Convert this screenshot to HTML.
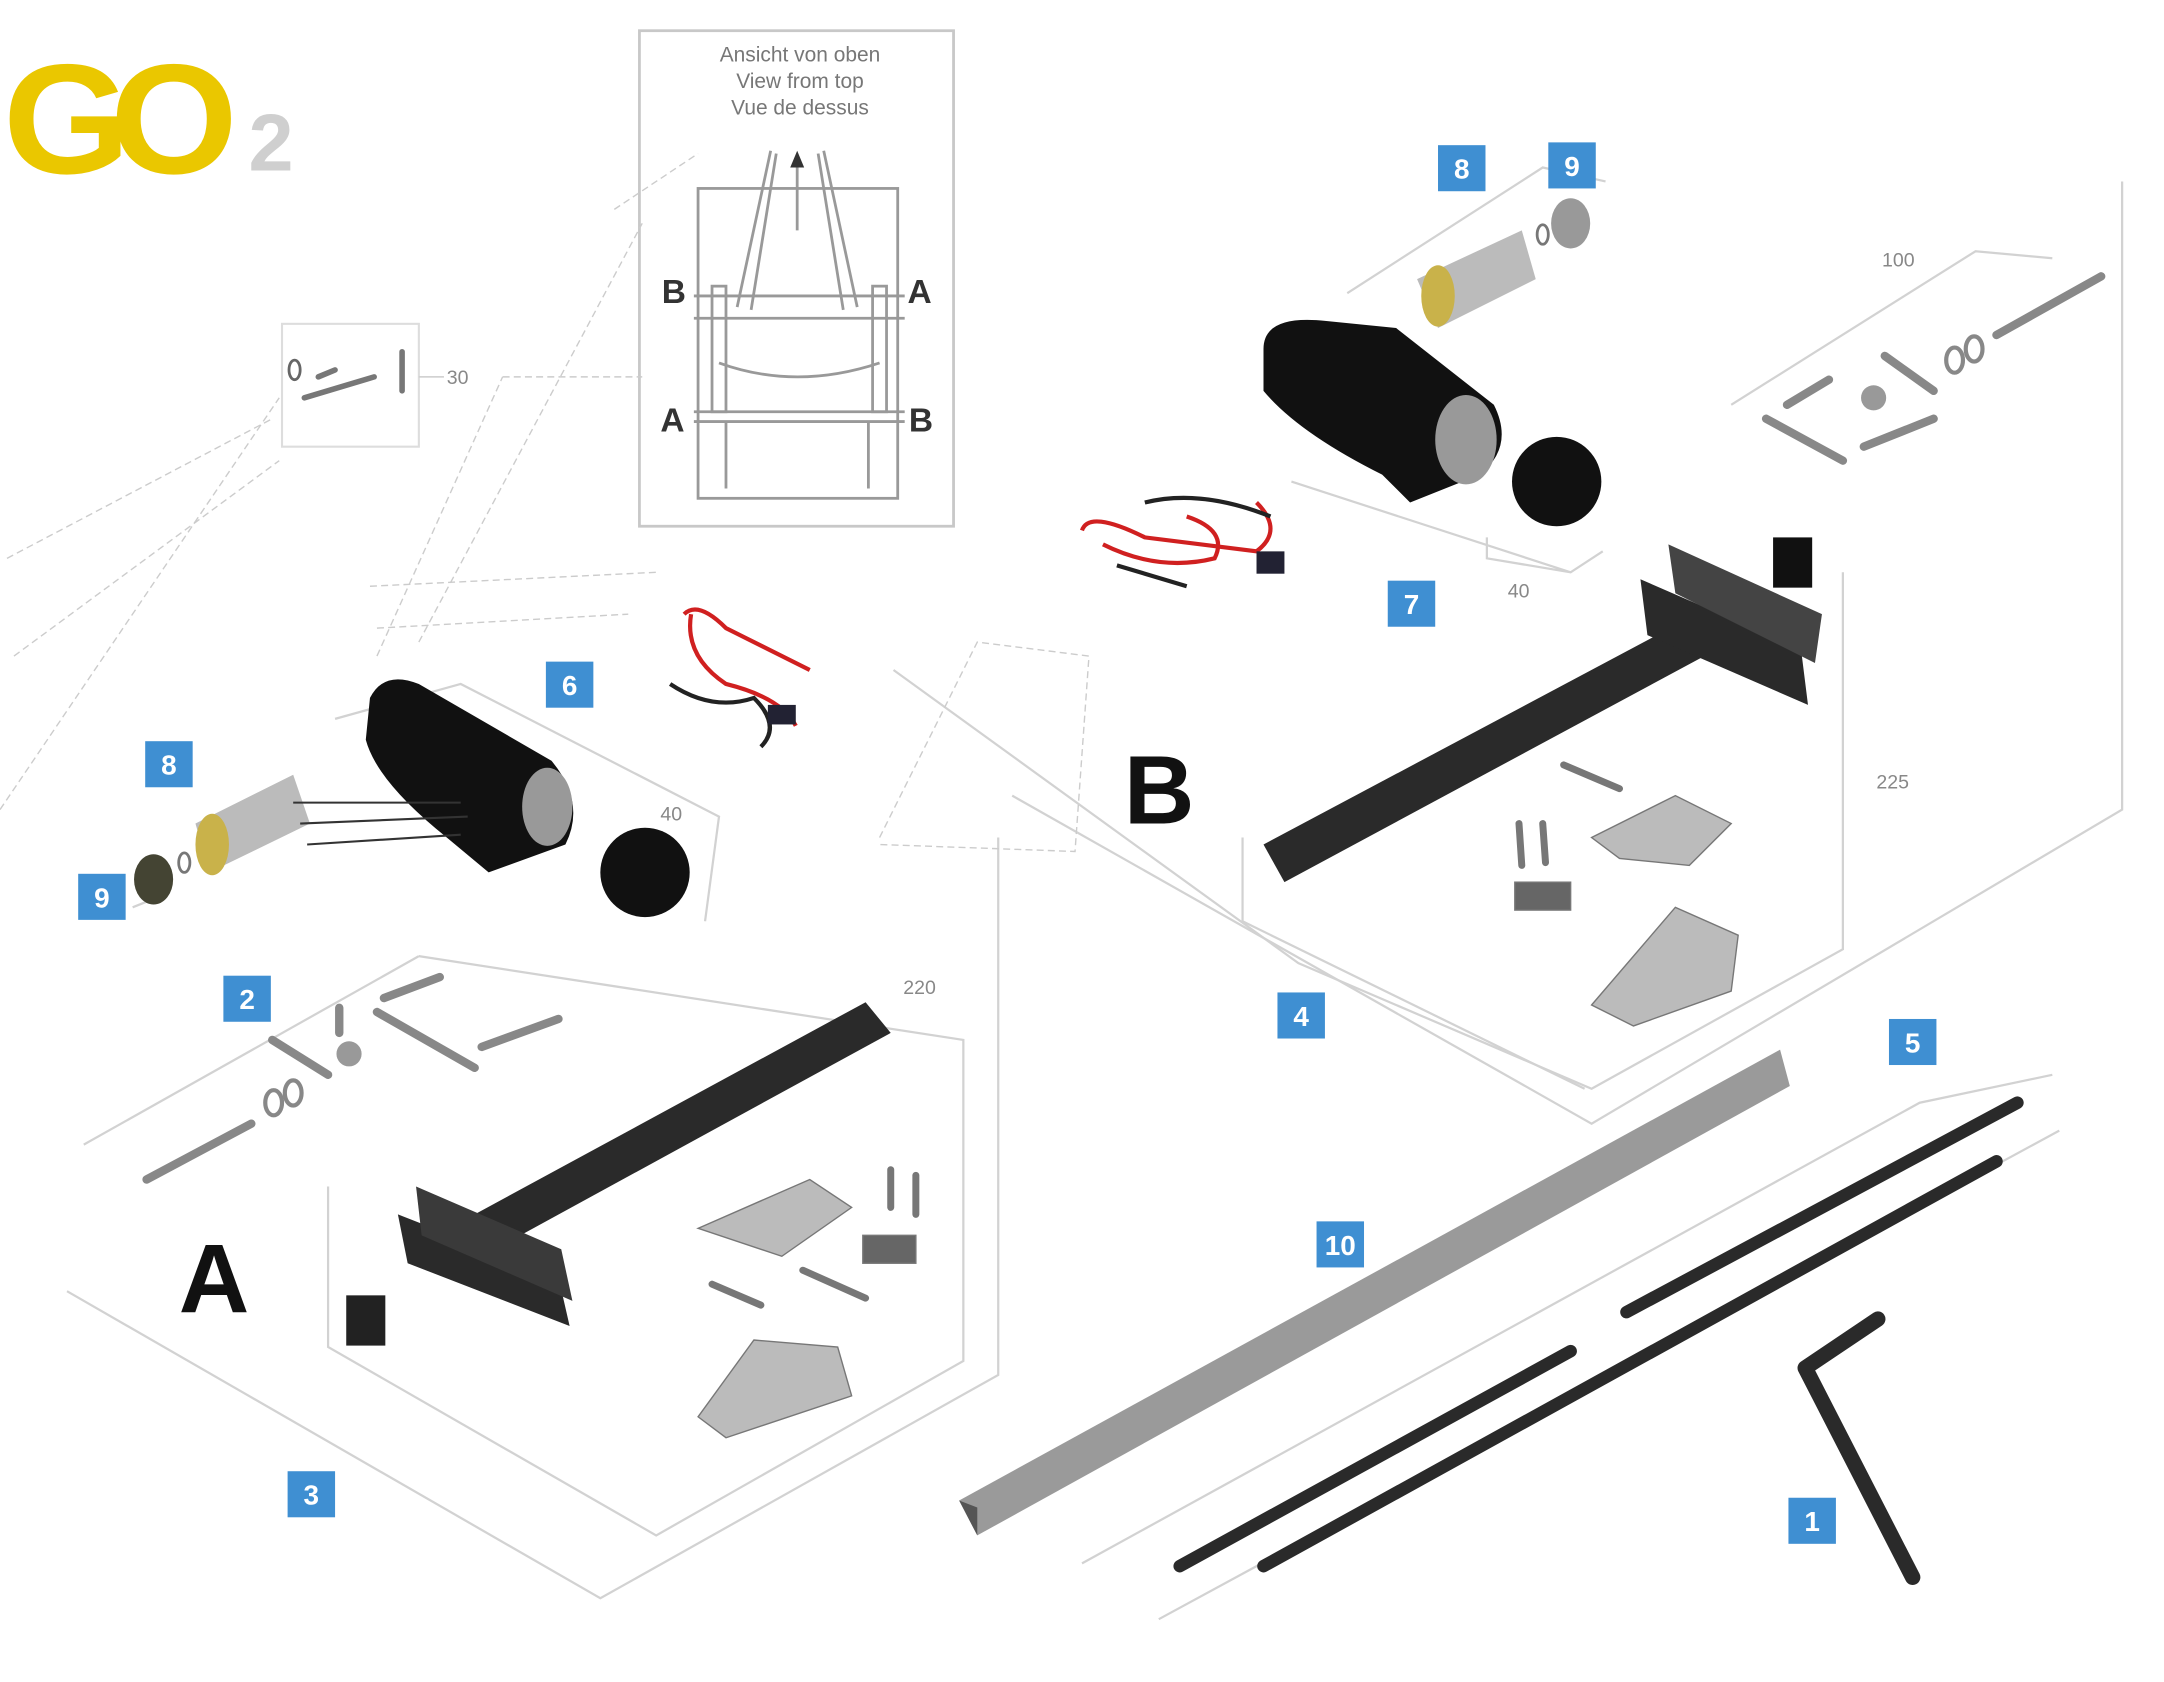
<!DOCTYPE html>
<html><head><meta charset="utf-8"><style>
html,body{margin:0;padding:0;background:#fff;}
svg{display:block;}
text{font-family:"Liberation Sans",sans-serif;}
</style></head><body>
<svg width="2164" height="1682" viewBox="0 0 1550 1205" preserveAspectRatio="none" xmlns="http://www.w3.org/2000/svg">
<rect width="1550" height="1205" fill="#fff"/>
<!-- logo -->
<text x="2" y="124" font-size="112" font-weight="bold" fill="#eac700" letter-spacing="-14" transform="scale(1.05 1)">GO</text>
<text x="178" y="122" font-size="58" font-weight="bold" fill="#cfcfcf">2</text>
<!-- inset box -->
<rect x="458" y="22" width="225" height="355" fill="none" stroke="#c8c8c8" stroke-width="2"/>
<g font-size="15" fill="#777" text-anchor="middle">
<text x="573" y="44">Ansicht von oben</text>
<text x="573" y="63">View from top</text>
<text x="573" y="82">Vue de dessus</text>
</g>
<g stroke="#999" stroke-width="2" fill="none">
<rect x="500" y="135" width="143" height="222"/>
<line x1="528" y1="220" x2="552" y2="108"/><line x1="538" y1="222" x2="556" y2="110"/>
<line x1="614" y1="220" x2="590" y2="108"/><line x1="604" y1="222" x2="586" y2="110"/>
<line x1="571" y1="165" x2="571" y2="115"/>
<line x1="497" y1="212" x2="648" y2="212"/><line x1="497" y1="228" x2="648" y2="228"/>
<rect x="510" y="205" width="10" height="90"/><rect x="625" y="205" width="10" height="90"/>
<path d="M515 260 Q570 280 630 260"/>
<line x1="497" y1="295" x2="648" y2="295"/><line x1="497" y1="302" x2="648" y2="302"/>
<line x1="520" y1="302" x2="520" y2="350"/><line x1="622" y1="302" x2="622" y2="350"/>
</g>
<path d="M566 120 L571 108 L576 120Z" fill="#333"/>
<g font-size="24" font-weight="bold" fill="#333">
<text x="474" y="217">B</text><text x="650" y="217">A</text>
<text x="473" y="309">A</text><text x="651" y="309">B</text>
</g>
<!-- small parts box 30 -->
<rect x="202" y="232" width="98" height="88" fill="none" stroke="#ddd" stroke-width="1.5"/>
<line x1="300" y1="270" x2="318" y2="270" stroke="#ccc"/>
<g stroke="#777" stroke-width="4" stroke-linecap="round"><line x1="218" y1="285" x2="268" y2="270"/><line x1="288" y1="252" x2="288" y2="280"/><line x1="228" y1="270" x2="240" y2="265"/></g>
<ellipse cx="211" cy="265" rx="4" ry="7" fill="none" stroke="#666" stroke-width="2"/>
<!-- grey lines -->
<g stroke="#d2d2d2" stroke-width="1.6" fill="none">
<path d="M60 820 L300 685 M300 685 L690 745 L690 975 L470 1100 L235 965 L235 850"/>
<path d="M48 925 L430 1145 L715 985 L715 600"/>
<path d="M640 480 L930 690 L1140 780 L1320 680 L1320 410"/>
<path d="M725 570 L1140 805 L1520 580 L1520 130"/>
<path d="M890 600 L890 660 L1135 780"/>
<path d="M925 345 L1125 410 L1148 395 M1065 385 L1065 400 L1125 410"/>
<path d="M965 210 L1105 120 L1150 130"/>
<path d="M1240 290 L1415 180 L1470 185"/>
<path d="M775 1120 L1375 790 L1470 770 M830 1160 L1475 810"/>
<path d="M240 515 L330 490 L515 585 L505 660"/>
<path d="M95 650 L120 640"/>
</g>
<!-- dashed faint lines -->
<g stroke="#ccc" stroke-width="1" stroke-dasharray="5 3" fill="none">
<path d="M0 580 L200 285 M5 400 L195 300 M10 470 L200 330"/>
<path d="M270 470 L360 270 M300 460 L460 160 M265 420 L470 410 M270 450 L450 440"/>
<path d="M630 600 L700 460 L780 470 L770 610 L630 605"/>
<path d="M360 270 L460 270 M440 150 L500 110"/>
</g>
<!-- Part B bar + plates -->
<g fill="#2a2a2a">
<path d="M905 605 L1215 440 L1230 465 L920 632Z"/>
<path d="M1175 415 L1290 465 L1295 505 L1180 455Z"/>
<path d="M1195 390 L1305 440 L1300 475 L1200 425Z" fill="#444"/>
<rect x="1270" y="385" width="28" height="36" fill="#111"/>
</g>
<g fill="#bbb" stroke="#777">
<path d="M1140 600 L1200 570 L1240 590 L1210 620 L1160 615Z"/>
<path d="M1140 720 L1200 650 L1245 670 L1240 710 L1170 735Z"/>
<rect x="1085" y="632" width="40" height="20" fill="#666"/>
</g>
<g stroke="#777" stroke-width="5" stroke-linecap="round"><line x1="1120" y1="548" x2="1160" y2="565"/><line x1="1088" y1="590" x2="1090" y2="620"/><line x1="1105" y1="590" x2="1107" y2="618"/></g>
<!-- Part A bar -->
<g fill="#2a2a2a">
<path d="M340 870 L620 718 L638 740 L360 892Z"/>
<path d="M285 870 L400 915 L408 950 L292 905Z"/>
<path d="M298 850 L402 895 L410 932 L302 885Z" fill="#3a3a3a"/>
<rect x="248" y="928" width="28" height="36" fill="#222"/>
</g>
<g fill="#bbb" stroke="#777">
<path d="M500 880 L580 845 L610 865 L560 900Z"/>
<path d="M500 1015 L540 960 L600 965 L610 1000 L520 1030Z"/>
<rect x="618" y="885" width="38" height="20" fill="#666"/>
</g>
<g stroke="#777" stroke-width="5" stroke-linecap="round"><line x1="510" y1="920" x2="545" y2="935"/><line x1="575" y1="910" x2="620" y2="930"/><line x1="638" y1="838" x2="638" y2="865"/><line x1="656" y1="842" x2="656" y2="870"/></g>
<!-- part 2 hardware -->
<g stroke="#888" stroke-width="6" stroke-linecap="round">
<line x1="105" y1="845" x2="180" y2="805"/><line x1="270" y1="725" x2="340" y2="765"/>
<line x1="345" y1="750" x2="400" y2="730"/><line x1="275" y1="715" x2="315" y2="700"/>
<line x1="195" y1="745" x2="235" y2="770"/><line x1="243" y1="722" x2="243" y2="740"/>
</g>
<circle cx="250" cy="755" r="9" fill="#999"/>
<g fill="none" stroke="#888" stroke-width="3"><ellipse cx="196" cy="790" rx="6" ry="9"/><ellipse cx="210" cy="783" rx="6" ry="9"/></g>
<!-- part 100 hardware -->
<g stroke="#888" stroke-width="6" stroke-linecap="round">
<line x1="1430" y1="240" x2="1505" y2="198"/><line x1="1350" y1="255" x2="1385" y2="280"/>
<line x1="1265" y1="300" x2="1320" y2="330"/><line x1="1280" y1="290" x2="1310" y2="272"/>
<line x1="1335" y1="320" x2="1385" y2="300"/>
</g>
<circle cx="1342" cy="285" r="9" fill="#999"/>
<g fill="none" stroke="#888" stroke-width="3"><ellipse cx="1400" cy="258" rx="6" ry="9"/><ellipse cx="1414" cy="250" rx="6" ry="9"/></g>
<!-- Motor B -->
<path d="M905 250 Q905 225 950 230 L1000 235 L1070 290 Q1085 320 1060 340 L1010 360 L990 340 Q930 310 905 280Z" fill="#111"/>
<ellipse cx="1050" cy="315" rx="22" ry="32" fill="#999"/>
<path d="M1015 200 L1090 165 L1100 200 L1030 235Z" fill="#bbb"/>
<ellipse cx="1030" cy="212" rx="12" ry="22" fill="#c9b24a"/>
<ellipse cx="1125" cy="160" rx="14" ry="18" fill="#999"/>
<circle cx="1115" cy="345" r="32" fill="#111"/>
<ellipse cx="1105" cy="168" rx="4" ry="7" fill="none" stroke="#777" stroke-width="2"/>
<!-- Motor A -->
<path d="M265 500 Q275 480 300 490 L395 545 Q420 575 405 605 L350 625 L320 600 Q270 560 262 530Z" fill="#111"/>
<ellipse cx="392" cy="578" rx="18" ry="28" fill="#999"/>
<path d="M140 590 L210 555 L222 590 L150 625Z" fill="#bbb"/>
<ellipse cx="152" cy="605" rx="12" ry="22" fill="#c9b24a"/>
<ellipse cx="110" cy="630" rx="14" ry="18" fill="#443" />
<ellipse cx="132" cy="618" rx="4" ry="7" fill="none" stroke="#777" stroke-width="2"/>
<circle cx="462" cy="625" r="32" fill="#111"/>
<g stroke="#333" stroke-width="1.5"><line x1="210" y1="575" x2="330" y2="575"/><line x1="215" y1="590" x2="335" y2="585"/><line x1="220" y1="605" x2="330" y2="598"/></g>
<!-- cables -->
<g fill="none" stroke-width="3">
<path d="M490 440 Q500 430 520 450 L580 480 M495 440 Q490 470 520 490 Q560 500 570 520" stroke="#d02020"/>
<path d="M480 490 Q510 510 540 500 Q560 520 545 535" stroke="#222"/>
<path d="M775 380 Q780 365 820 385 L900 395 Q920 380 900 360 M790 390 Q830 410 870 400 Q880 380 850 370" stroke="#d02020"/>
<path d="M820 360 Q860 350 910 370 M800 405 L850 420" stroke="#222"/>
</g>
<rect x="550" y="505" width="20" height="14" fill="#223"/><rect x="900" y="395" width="20" height="16" fill="#223"/>
<!-- bar 10 -->
<path d="M687 1075 L1275 752 L1282 778 L700 1100Z" fill="#9a9a9a"/>
<path d="M687 1075 L700 1100 L700 1080Z" fill="#555"/>
<!-- rods 5 -->
<g stroke="#2a2a2a" stroke-width="9" stroke-linecap="round">
<line x1="845" y1="1122" x2="1125" y2="968"/><line x1="905" y1="1122" x2="1430" y2="832"/>
<line x1="1165" y1="940" x2="1445" y2="790"/>
</g>
<!-- hex key 1 -->
<path d="M1345 945 L1293 980 L1370 1130" fill="none" stroke="#2a2a2a" stroke-width="11" stroke-linejoin="round" stroke-linecap="round"/>
<!-- big letters -->
<text x="128" y="940" font-size="70" font-weight="bold" fill="#111">A</text>
<text x="805" y="590" font-size="70" font-weight="bold" fill="#111">B</text>
<!-- dim numbers -->
<g font-size="14" fill="#888">
<text x="320" y="275">30</text><text x="1348" y="191">100</text><text x="1080" y="428">40</text>
<text x="473" y="588">40</text><text x="647" y="712">220</text><text x="1344" y="565">225</text>
</g>
<!-- labels -->
<g font-size="20" font-weight="bold" fill="#fff" text-anchor="middle">
<rect x="1030" y="104" width="34" height="33" fill="#3f8fd2"/><text x="1047" y="128">8</text>
<rect x="1109" y="102" width="34" height="33" fill="#3f8fd2"/><text x="1126" y="126">9</text>
<rect x="994" y="416" width="34" height="33" fill="#3f8fd2"/><text x="1011" y="440">7</text>
<rect x="391" y="474" width="34" height="33" fill="#3f8fd2"/><text x="408" y="498">6</text>
<rect x="104" y="531" width="34" height="33" fill="#3f8fd2"/><text x="121" y="555">8</text>
<rect x="56" y="626" width="34" height="33" fill="#3f8fd2"/><text x="73" y="650">9</text>
<rect x="160" y="699" width="34" height="33" fill="#3f8fd2"/><text x="177" y="723">2</text>
<rect x="915" y="711" width="34" height="33" fill="#3f8fd2"/><text x="932" y="735">4</text>
<rect x="1353" y="730" width="34" height="33" fill="#3f8fd2"/><text x="1370" y="754">5</text>
<rect x="943" y="875" width="34" height="33" fill="#3f8fd2"/><text x="960" y="899">10</text>
<rect x="206" y="1054" width="34" height="33" fill="#3f8fd2"/><text x="223" y="1078">3</text>
<rect x="1281" y="1073" width="34" height="33" fill="#3f8fd2"/><text x="1298" y="1097">1</text>
</g>
</svg>
</body></html>
